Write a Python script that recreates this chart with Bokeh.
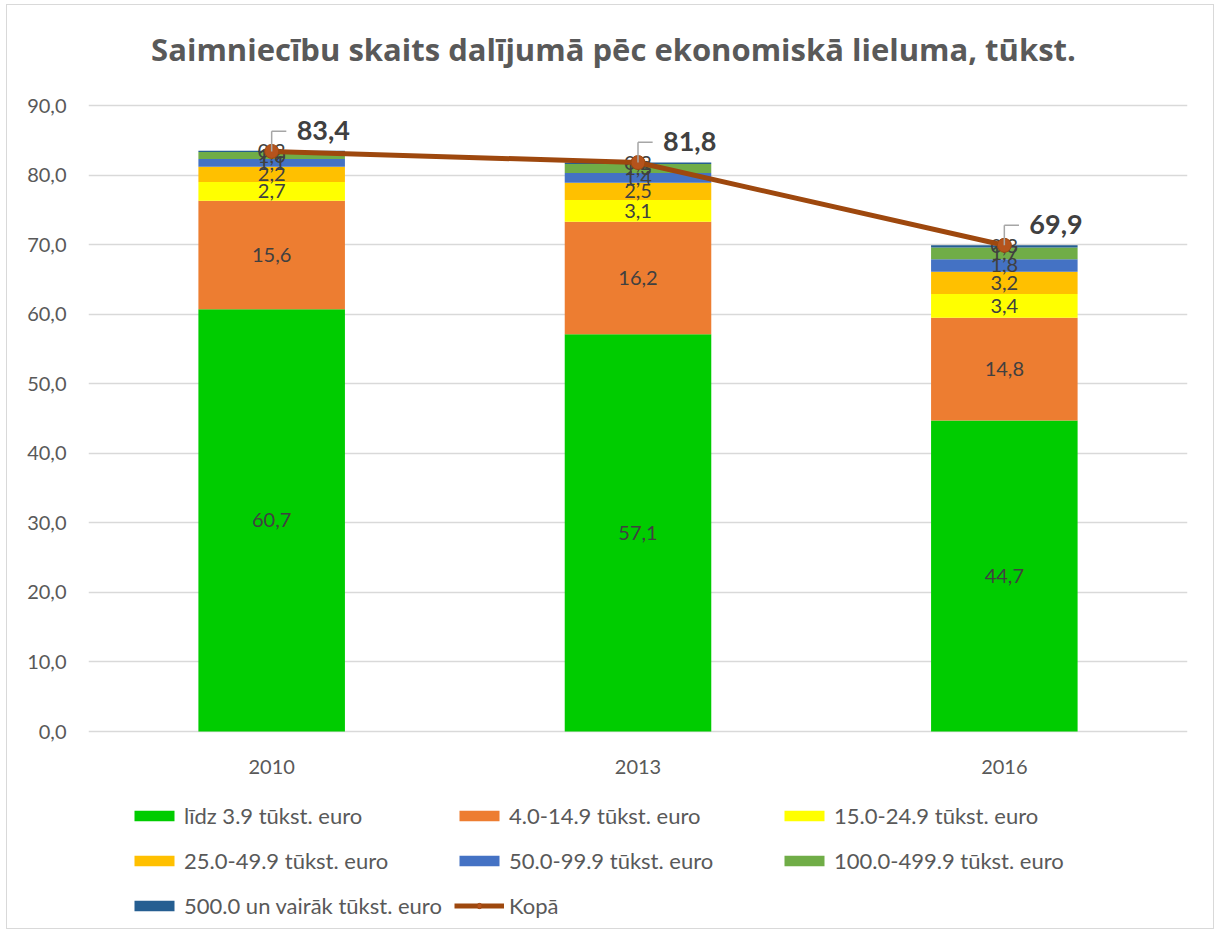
from bokeh.plotting import figure
from bokeh.models import ColumnDataSource, Legend, LegendItem, CustomJSTickFormatter, FixedTicker, Label
from bokeh.core.properties import value
from bokeh.embed import file_html
from bokeh.resources import INLINE

title_text = "Saimniecību skaits dalījumā pēc ekonomiskā lieluma, tūkst."
years = ["2010", "2013", "2016"]
series_names = ["līdz 3.9 tūkst. euro", "4.0-14.9 tūkst. euro", "15.0-24.9 tūkst. euro",
                "25.0-49.9 tūkst. euro", "50.0-99.9 tūkst. euro", "100.0-499.9 tūkst. euro",
                "500.0 un vairāk tūkst. euro"]
s1 = [60.7, 57.1, 44.7]
s2 = [15.6, 16.2, 14.8]
s3 = [2.7, 3.1, 3.4]
s4 = [2.2, 2.5, 3.2]
s5 = [1.1, 1.4, 1.8]
s6 = [1.0, 1.3, 1.7]
s7 = [0.2, 0.2, 0.3]
total = [83.4, 81.8, 69.9]
total_name = "Kopā"
colors = ["#00CC00", "#ED7D31", "#FFFF00", "#FFC000", "#4472C4", "#70AD47", "#255E91"]

FONT = "Lato"
series = [s1, s2, s3, s4, s5, s6, s7]
xs = list(range(len(years)))
keys = [f"s{i}" for i in range(len(series))]
data = {"x": xs}
for k, s in zip(keys, series):
    data[k] = s
src = ColumnDataSource(data)

# layout (pixels): value axis 0..90 spans 626 px; title area above, category labels + legend below
Y_MAX = 90
PX_VALUE = 626
PX_ABOVE = 100
PX_BELOW = 195
y_start = -PX_BELOW * Y_MAX / PX_VALUE
y_end = Y_MAX + PX_ABOVE * Y_MAX / PX_VALUE

p = figure(width=1208, height=925, x_range=(-0.5, 2.5), y_range=(y_start, y_end),
           output_backend="svg", toolbar_location=None, x_axis_location=None,
           min_border_left=81, min_border_right=28, min_border_top=0, min_border_bottom=4)
p.styles = {"border": "1px solid #D9D9D9", "margin-left": "6px", "margin-top": "4px"}
p.outline_line_color = None

p.add_layout(Label(x=525, x_units="screen", y=Y_MAX, y_units="data", y_offset=57,
                   text=title_text, text_align="center", text_baseline="middle",
                   text_font="Open Sans", text_font_size="31px", text_font_style="bold",
                   text_color="#595959"))

bars = p.vbar_stack(keys, x="x", width=0.4, color=colors, line_color=None, source=src)

# segment labels
lx, ly, lt = [], [], []
for i in xs:
    base = 0.0
    for s in series:
        v = s[i]
        lx.append(i)
        ly.append(base + v / 2)
        lt.append(f"{v:.1f}".replace(".", ","))
        base += v
p.text(x=lx, y=ly, text=lt, text_align="center", text_baseline="middle",
       text_font=value(FONT), text_font_size="20px", text_color="#404040")

# total line
line = p.line(xs, total, line_color="#9E480E", line_width=5)
marks = p.scatter(xs, total, size=14, fill_color="#B5531C", line_color="#9E480E")

# leader lines and total labels
lead_up = 2.9
lead_dx = 0.04
p.segment(x0=xs, y0=total, x1=xs, y1=[t + lead_up for t in total], line_color="#A6A6A6", line_width=1.5)
p.segment(x0=xs, y0=[t + lead_up for t in total], x1=[x + lead_dx for x in xs],
          y1=[t + lead_up for t in total], line_color="#A6A6A6", line_width=1.5)
p.text(x=xs, y=total, text=[f"{t:.1f}".replace(".", ",") for t in total],
       x_offset=25, y_offset=-21, text_align="left", text_baseline="middle",
       text_font=value(FONT), text_font_size="27px", text_font_style="bold", text_color="#404040")

# category labels under the zero line
p.text(x=xs, y=[0] * len(xs), text=years, y_offset=35, text_align="center", text_baseline="middle",
       text_font=value(FONT), text_font_size="20px", text_color="#595959")

# value axis
p.yaxis.ticker = FixedTicker(ticks=list(range(0, Y_MAX + 1, 10)))
p.yaxis.formatter = CustomJSTickFormatter(code="return tick.toFixed(1).replace('.', ',');")
ax = p.yaxis[0]
ax.axis_line_color = None
ax.major_tick_line_color = None
ax.minor_tick_line_color = None
ax.major_tick_out = 0
ax.major_tick_in = 0
ax.major_label_text_font = FONT
ax.major_label_text_font_size = "20px"
ax.major_label_text_color = "#595959"
ax.major_label_standoff = 22
p.xgrid.grid_line_color = None
p.ygrid.grid_line_color = "#D9D9D9"
p.ygrid.grid_line_width = 1.5

items = [LegendItem(label=n, renderers=[r]) for n, r in zip(series_names, bars)]
items.append(LegendItem(label=total_name, renderers=[line, marks]))
legend = Legend(items=items, location=(41, 1), ncols=3, orientation="horizontal",
                glyph_width=50, glyph_height=13, label_standoff=5, label_width=264,
                label_height=39, spacing=6, padding=0, margin=0,
                border_line_color=None, background_fill_alpha=0,
                label_text_font=FONT, label_text_font_size="22px", label_text_color="#595959")
p.add_layout(legend, "center")

open("out.html", "w").write(file_html(p, INLINE))
